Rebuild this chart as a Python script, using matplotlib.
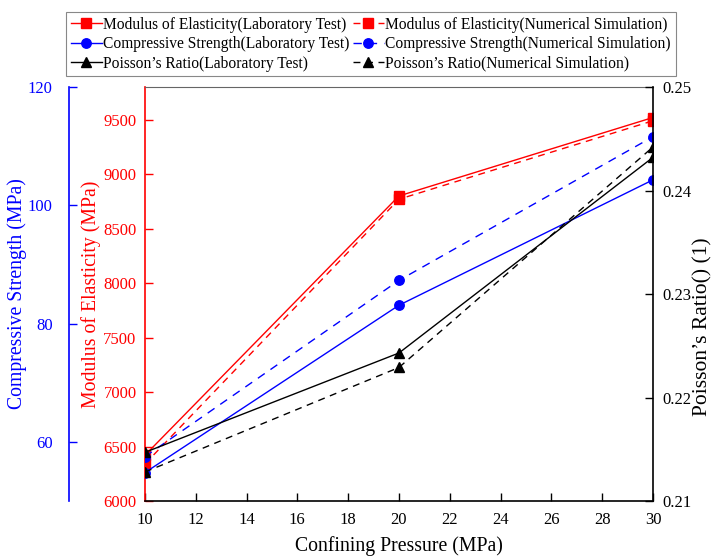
import matplotlib
matplotlib.use("Agg")
import matplotlib.pyplot as plt

plt.rcParams['font.family'] = ['Liberation Serif', 'DejaVu Serif']
plt.rcParams['mathtext.fontset'] = 'stix'

# ---- data ----
pressure = [10, 20, 30]
mod_lab = [6420, 8800, 9520]
mod_sim = [6340, 8770, 9490]
cs_lab = [54.8, 83.1, 104.3]
cs_sim = [57.5, 87.3, 111.6]
pr_lab = [0.2147, 0.2243, 0.2432]
pr_sim = [0.2128, 0.2229, 0.2442]

x_ticks = [10, 12, 14, 16, 18, 20, 22, 24, 26, 28, 30]
mod_ticks = [6000, 6500, 7000, 7500, 8000, 8500, 9000, 9500]
cs_ticks = [60, 80, 100, 120]
pr_ticks = [0.21, 0.22, 0.23, 0.24, 0.25]

fig = plt.figure(figsize=(7.21, 5.56), dpi=100)
ax = fig.add_axes([0.201, 0.0989, 0.7046, 0.7446])
ax_b = ax.twinx()
ax_p = ax.twinx()

tick_fs = 12
lab_fs = 14.2
ms = 6.8
lw = 1.0

# Modulus (red, main axes)
l1, = ax.plot(pressure, mod_lab, color='red', lw=lw, marker='s', ms=ms,
              label='Modulus of Elasticity(Laboratory Test)')
l2, = ax.plot(pressure, mod_sim, color='red', lw=lw, marker='s', ms=ms,
              dashes=(5, 4), label='Modulus of Elasticity(Numerical Simulation)')
# Compressive strength (blue)
l3, = ax_b.plot(pressure, cs_lab, color='blue', lw=lw, marker='o', ms=ms,
                label='Compressive Strength(Laboratory Test)')
l4, = ax_b.plot(pressure, cs_sim, color='blue', lw=lw, marker='o', ms=ms,
                dashes=(6, 5), label='Compressive Strength(Numerical Simulation)')
# Poisson's ratio (black)
l5, = ax_p.plot(pressure, pr_lab, color='black', lw=lw, marker='^', ms=ms + 0.5,
                label='Poisson\u2019s Ratio(Laboratory Test)')
l6, = ax_p.plot(pressure, pr_sim, color='black', lw=lw, marker='^', ms=ms + 0.5,
                dashes=(5, 4), label='Poisson\u2019s Ratio(Numerical Simulation)')

# ---- main axis (red) ----
ax.set_xlim(10, 30)
ax.set_ylim(6000, 9800)
ax.set_xticks(x_ticks)
ax.set_yticks(mod_ticks)
ax.tick_params(axis='x', direction='in', length=5.5, width=1, pad=8,
               labelsize=tick_fs, colors='black', top=False)
ax.tick_params(axis='y', direction='in', length=5.5, width=1, pad=6,
               labelsize=tick_fs, colors='red', right=False)
ax.spines['left'].set_color('red')
ax.spines['left'].set_linewidth(1.2)
ax.spines['bottom'].set_linewidth(1.2)
ax.spines['top'].set_color('#666666')
ax.spines['top'].set_linewidth(0.8)
ax.spines['right'].set_visible(False)
ax.set_ylabel('Modulus of Elasticity (MPa)', color='red', fontsize=lab_fs)
ax.yaxis.set_label_coords(-0.086, 0.5)
ax.set_xlabel('Confining Pressure (MPa)', fontsize=lab_fs)
ax.xaxis.set_label_coords(0.5, -0.085)

# ---- blue axis ----
ax_b.set_ylim(50, 120)
ax_b.set_yticks(cs_ticks)
ax_b.spines['left'].set_position(('axes', -0.15))
ax_b.spines['left'].set_visible(True)
ax_b.spines['left'].set_color('blue')
ax_b.spines['left'].set_linewidth(1.2)
for s in ['right', 'top', 'bottom']:
    ax_b.spines[s].set_visible(False)
ax_b.yaxis.set_ticks_position('left')
ax_b.yaxis.set_label_position('left')
ax_b.tick_params(axis='y', direction='in', length=5.5, width=1, pad=11.5,
                 labelsize=tick_fs, colors='blue')
ax_b.set_ylabel('Compressive Strength (MPa)', color='blue', fontsize=lab_fs)
ax_b.yaxis.set_label_coords(-0.232, 0.5)

# ---- Poisson axis ----
ax_p.set_ylim(0.21, 0.25)
ax_p.set_yticks(pr_ticks)
ax_p.set_yticklabels([f'{v:.2f}' for v in pr_ticks])
for s in ['left', 'top', 'bottom']:
    ax_p.spines[s].set_visible(False)
ax_p.spines['right'].set_linewidth(1.2)
ax_p.tick_params(axis='y', direction='in', length=5.5, width=1, pad=7,
                 labelsize=tick_fs, colors='black')
ax_p.set_ylabel('Poisson\u2019s Ratio() (1)', fontsize=15.5)
ax_p.yaxis.set_label_coords(1.08, 0.42)

# ---- legend ----
handles = [l1, l3, l5, l2, l4, l6]
leg = fig.legend(handles=handles, labels=[h.get_label() for h in handles],
                 ncol=2, loc='upper left', bbox_to_anchor=(66 / 721, 1 - 12 / 556),
                 fontsize=11.2, frameon=True, fancybox=False, framealpha=1,
                 edgecolor='#888888', borderpad=0.3, labelspacing=0.22,
                 handlelength=2.0, handletextpad=0.1, columnspacing=0.2,
                 borderaxespad=0)
leg.get_frame().set_linewidth(0.8)

fig.savefig('out.png', dpi=100)
